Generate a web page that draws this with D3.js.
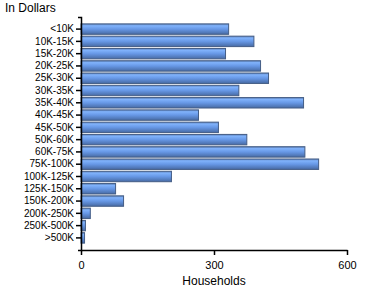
<!DOCTYPE html>
<html>
<head>
<meta charset="utf-8">
<script src="https://cdn.jsdelivr.net/npm/d3@7"></script>
<style>
  body { margin: 0; background: #fff; }
  text { font-family: "Liberation Sans", Arial, sans-serif; }
</style>
</head>
<body>
<div id="chart"></div>
<script>
const categories = ["<10K", "10K-15K", "15K-20K", "20K-25K", "25K-30K", "30K-35K", "35K-40K",
  "40K-45K", "45K-50K", "50K-60K", "60K-75K", "75K-100K", "100K-125K", "125K-150K",
  "150K-200K", "200K-250K", "250K-500K", ">500K"];
const households = [333, 390, 326, 405, 423, 356, 502, 265, 310, 374, 505, 536, 204, 78, 96, 21, 10, 8];
const xTicks = [0, 300, 600];

const width = 370, height = 300;
const plotLeft = 81, plotRight = 347, plotTop = 17, plotBottom = 250;

const svg = d3.select("#chart").append("svg")
  .attr("width", width)
  .attr("height", height);

// bar gradient, light top fading darker to the bottom
const grad = svg.append("defs").append("linearGradient")
  .attr("id", "barGrad")
  .attr("x1", 0).attr("y1", 0).attr("x2", 0).attr("y2", 1);
grad.append("stop").attr("offset", "0%").attr("stop-color", "#5b7fb8");
grad.append("stop").attr("offset", "18%").attr("stop-color", "#80b2fb");
grad.append("stop").attr("offset", "50%").attr("stop-color", "#6798e6");
grad.append("stop").attr("offset", "100%").attr("stop-color", "#476aa3");

const x = d3.scaleLinear().domain([0, 600]).range([plotLeft, plotRight]);
const y = d3.scaleBand()
  .domain(categories)
  .range([plotTop, plotBottom])
  .paddingInner(0.15)
  .paddingOuter(0.56);

svg.append("g")
  .selectAll("rect")
  .data(households)
  .join("rect")
  .attr("x", x(0))
  .attr("y", (d, i) => y(categories[i]))
  .attr("width", d => x(d) - x(0))
  .attr("height", y.bandwidth())
  .attr("fill", "url(#barGrad)")
  .attr("stroke", "#445d85")
  .attr("stroke-width", 1);

const yAxis = svg.append("g")
  .attr("transform", `translate(${plotLeft},0)`)
  .call(d3.axisLeft(y).tickSize(5).tickSizeOuter(3).tickPadding(2));

const xAxis = svg.append("g")
  .attr("transform", `translate(0,${plotBottom})`)
  .call(d3.axisBottom(x).tickValues(xTicks).tickSize(5).tickSizeOuter(0).tickPadding(6));

[yAxis, xAxis].forEach(g => {
  g.selectAll("path, line").attr("stroke", "#000").attr("stroke-width", 1.5);
  g.selectAll("text").attr("font-size", 10).attr("fill", "#000")
    .attr("font-family", "'Liberation Sans', Arial, sans-serif");
});
xAxis.selectAll("text").attr("font-size", 11);

svg.append("text")
  .attr("x", 5).attr("y", 12)
  .attr("font-size", 12)
  .text("In Dollars");

svg.append("text")
  .attr("x", x(300)).attr("y", 285)
  .attr("text-anchor", "middle")
  .attr("font-size", 12)
  .text("Households");
</script>
</body>
</html>
